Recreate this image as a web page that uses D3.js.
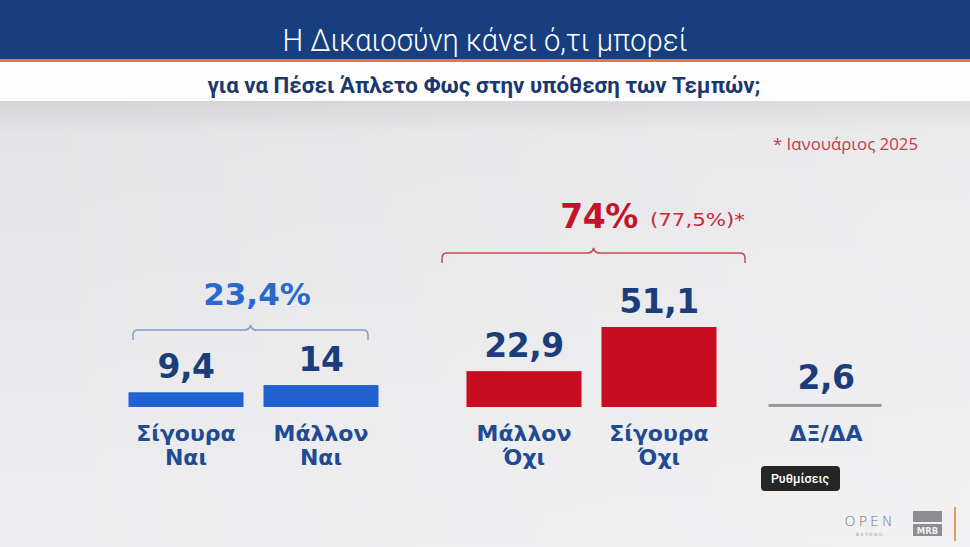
<!DOCTYPE html>
<html><head><meta charset="utf-8">
<script src="https://cdn.jsdelivr.net/npm/d3@7"></script>
<style>html,body{margin:0;padding:0;background:#ebebed;overflow:hidden}</style>
</head><body>
<script>
// ---- data ----
const categories = ["Σίγουρα Ναι", "Μάλλον Ναι", "Μάλλον Όχι", "Σίγουρα Όχι", "ΔΞ/ΔΑ"];
const labelLines = [["Σίγουρα", "Ναι"], ["Μάλλον", "Ναι"], ["Μάλλον", "Όχι"], ["Σίγουρα", "Όχι"], ["ΔΞ/ΔΑ"]];
const values = [9.4, 14, 22.9, 51.1, 2.6];
const valueLabels = ["9,4", "14", "22,9", "51,1", "2,6"];
const groups = ["yes", "yes", "no", "no", "dk"];
const totals = [{group: "yes", label: "23,4%", extra: ""}, {group: "no", label: "74%", extra: "(77,5%)*"}];
const title = "Η Δικαιοσύνη κάνει ό,τι μπορεί";
const subtitle = "για να Πέσει Άπλετο Φως στην υπόθεση των Τεμπών;";
const footnote = "* Ιανουάριος 2025";

// ---- layout ----
const W = 970, H = 547;
const svg = d3.select("body").append("svg").attr("width", W).attr("height", H);
const defs = svg.append("defs");
const bg = defs.append("linearGradient").attr("id", "bg").attr("x1", 0).attr("y1", 0).attr("x2", 0).attr("y2", 1);
bg.append("stop").attr("offset", "0").attr("stop-color", "#d2d3d5");
bg.append("stop").attr("offset", "0.07").attr("stop-color", "#e4e4e6");
bg.append("stop").attr("offset", "1").attr("stop-color", "#ededef");
const bgh = defs.append("linearGradient").attr("id", "bgh").attr("x1", 0).attr("y1", 0).attr("x2", 1).attr("y2", 0);
bgh.append("stop").attr("offset", "0").attr("stop-color", "#ffffff").attr("stop-opacity", 0);
bgh.append("stop").attr("offset", "1").attr("stop-color", "#ffffff").attr("stop-opacity", 0.25);

svg.append("rect").attr("x", 0).attr("y", 101).attr("width", W).attr("height", H - 101).attr("fill", "url(#bg)");
svg.append("rect").attr("x", 0).attr("y", 101).attr("width", W).attr("height", H - 101).attr("fill", "url(#bgh)");

// header
svg.append("rect").attr("x", 0).attr("y", 0).attr("width", W).attr("height", 60).attr("fill", "#173f7f");
svg.append("rect").attr("x", 0).attr("y", 59).attr("width", W).attr("height", 3).attr("fill", "#e2773f");
svg.append("rect").attr("x", 0).attr("y", 62).attr("width", W).attr("height", 39).attr("fill", "#fdfdfd");
svg.append("text").attr("x", 485).attr("y", 51).attr("text-anchor", "middle")
  .attr("font-family", "Roboto").attr("font-weight", 300).attr("font-size", 31)
  .attr("textLength", 405).attr("lengthAdjust", "spacingAndGlyphs")
  .attr("fill", "#ffffff").text(title);
svg.append("text").attr("x", 484).attr("y", 93).attr("text-anchor", "middle")
  .attr("font-family", "Roboto").attr("font-weight", 700).attr("font-size", 22)
  .attr("textLength", 553).attr("lengthAdjust", "spacingAndGlyphs")
  .attr("fill", "#1a3770").text(subtitle);

svg.append("text").attr("x", 918).attr("y", 150).attr("text-anchor", "end")
  .attr("font-family", "Open Sans").attr("font-size", 16.5)
  .attr("textLength", 145).attr("lengthAdjust", "spacingAndGlyphs")
  .attr("fill", "#c23a50").text(footnote);

// scales
const x = d3.scaleOrdinal().domain(categories).range([186, 321, 524, 659, 826]);
const y = d3.scaleLinear().domain([0, 51.1]).range([407, 327]);
const color = d3.scaleOrdinal().domain(["yes", "no", "dk"]).range(["#1f62d0", "#c70d1f", "#9a9a9c"]);
const barW = 115;

const data = categories.map((c, i) => ({c, v: values[i], lab: valueLabels[i], lines: labelLines[i], g: groups[i]}));

svg.append("g").selectAll("rect").data(data).join("rect")
  .attr("x", d => x(d.c) - barW / 2)
  .attr("y", d => d.g === "dk" ? y(d.v) + 1 : y(d.v))
  .attr("width", d => d.g === "dk" ? 113 : barW)
  .attr("height", d => d.g === "dk" ? 3 : y(0) - y(d.v))
  .attr("fill", d => color(d.g));

svg.append("g").selectAll("text").data(data).join("text")
  .attr("x", d => x(d.c))
  .attr("y", d => y(d.v) - 14)
  .attr("text-anchor", "middle")
  .attr("font-family", "DejaVu Sans").attr("font-weight", 700).attr("font-size", 33)
  .attr("letter-spacing", -0.5)
  .attr("fill", "#1b3d7c").text(d => d.lab);

const lab = svg.append("g").selectAll("text").data(data).join("text")
  .attr("text-anchor", "middle")
  .attr("font-family", "DejaVu Sans").attr("font-weight", 700).attr("font-size", 22)
  .attr("fill", "#1f4b93");
lab.selectAll("tspan").data(d => d.lines.map(t => ({t, cx: x(d.c)}))).join("tspan")
  .attr("x", d => d.cx).attr("y", (d, i) => 441 + i * 24).text(d => d.t);

// brackets & totals
function bracket(x0, x1, yy, col) {
  const m = (x0 + x1) / 2, r = 5;
  const p = `M${x0},${yy + 10} L${x0},${yy + r} Q${x0},${yy} ${x0 + r},${yy} L${m - 6},${yy} Q${m - 1},${yy} ${m},${yy - 5} Q${m + 1},${yy} ${m + 6},${yy} L${x1 - r},${yy} Q${x1},${yy} ${x1},${yy + r} L${x1},${yy + 10}`;
  svg.append("path").attr("d", p).attr("fill", "none").attr("stroke", col).attr("stroke-width", 1.5).attr("opacity", 0.85);
}
totals.forEach(t => {
  if (t.group === "yes") {
    bracket(133, 368, 330, "#6f8fc4");
    svg.append("text").attr("x", 257).attr("y", 305).attr("text-anchor", "middle")
      .attr("font-family", "DejaVu Sans").attr("font-weight", 700).attr("font-size", 31)
      .attr("fill", "#2a68cf").text(t.label);
  } else {
    bracket(442, 745, 253, "#b8323f");
    svg.append("text").attr("x", 599).attr("y", 228).attr("text-anchor", "middle")
      .attr("font-family", "DejaVu Sans").attr("font-weight", 700).attr("font-size", 33)
      .attr("letter-spacing", -0.5)
      .attr("fill", "#c3142a").text(t.label);
    svg.append("text").attr("x", 650).attr("y", 226)
      .attr("font-family", "DejaVu Sans").attr("font-size", 18)
      .attr("textLength", 95).attr("lengthAdjust", "spacingAndGlyphs")
      .attr("fill", "#c42a3c").text(t.extra);
  }
});

// overlay tooltip
svg.append("rect").attr("x", 761).attr("y", 466).attr("width", 79).attr("height", 25).attr("rx", 4).attr("fill", "#262626");
svg.append("text").attr("x", 800).attr("y", 483).attr("text-anchor", "middle")
  .attr("font-family", "Roboto").attr("font-weight", 500).attr("font-size", 12.5).attr("fill", "#ffffff").text("Ρυθμίσεις");

// logos
svg.append("text").attr("x", 870).attr("y", 526).attr("text-anchor", "middle")
  .attr("font-family", "DejaVu Sans").attr("font-weight", 300).attr("font-size", 14).attr("letter-spacing", 3)
  .attr("fill", "#707074").text("OPEN");
svg.append("text").attr("x", 870).attr("y", 536).attr("text-anchor", "middle")
  .attr("font-family", "DejaVu Sans").attr("font-size", 4.5).attr("letter-spacing", 1.5)
  .attr("fill", "#9a9a9e").text("BEYOND");
svg.append("rect").attr("x", 913).attr("y", 511).attr("width", 29).attr("height", 11).attr("fill", "#8e8e90");
svg.append("rect").attr("x", 913).attr("y", 524).attr("width", 29).attr("height", 12).attr("fill", "#8e8e90");
svg.append("text").attr("x", 927.5).attr("y", 534).attr("text-anchor", "middle")
  .attr("font-family", "DejaVu Sans").attr("font-weight", 700).attr("font-size", 8.5).attr("fill", "#ededef").text("MRB");
svg.append("rect").attr("x", 954).attr("y", 507).attr("width", 2).attr("height", 34).attr("fill", "#e39a5a");
</script>
</body></html>
